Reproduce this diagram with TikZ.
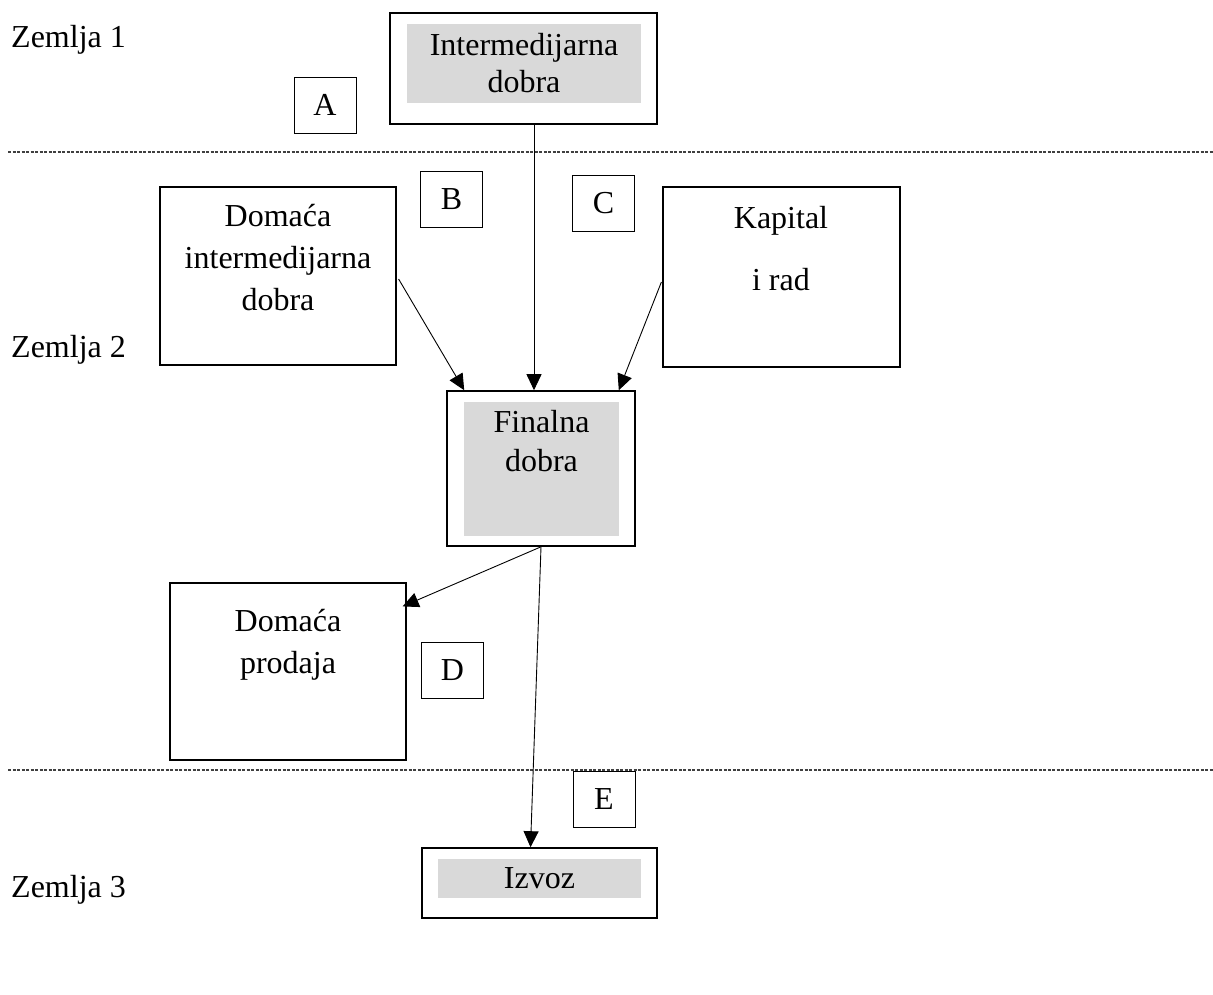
\documentclass[tikz,border=0pt]{standalone}
\usepackage{fontspec}
\setmainfont{Liberation Serif}
\usetikzlibrary{arrows.meta,calc}
\definecolor{boxgray}{HTML}{D9D9D9}
\definecolor{dashgray}{HTML}{404040}
\begin{document}
\begin{tikzpicture}[x=1pt,y=-1pt,
  txt/.style={font=\fontsize{32}{42}\selectfont,align=center,inner sep=0},
  frame/.style={draw,line width=1.6pt,inner sep=0,fill=white},
  pbox/.style={draw,line width=1.2pt,inner sep=0},
  gbox/.style={fill=boxgray,inner sep=0,font=\fontsize{32}{37}\selectfont,align=center},
  letter/.style={draw,line width=0.9pt,minimum width=62,minimum height=56,inner sep=0,font=\fontsize{32}{37}\selectfont},
  flow/.style={line width=0.9pt,-{Triangle[length=16pt,width=15pt]}},
  sep/.style={draw=dashgray,line width=1.1pt,dash pattern=on 3pt off 1.5pt}]
\useasboundingbox (0,0) rectangle (1213,994);

% separators
\draw[sep] (8,152) -- (1213,152);
\draw[sep] (8,770) -- (1213,770);

% country labels
\node[txt,anchor=base west] (z1) at (11,47) {Zemlja 1};
\node[txt,anchor=base west] (z2) at (11,357) {Zemlja 2};
\node[txt,anchor=base west] (z3) at (11,897) {Zemlja 3};

% top box
\node[frame,minimum width=267,minimum height=111] (top) at (523.5,68.5) {};
\node[gbox,minimum width=234,minimum height=79] (topg) at (524,63.5) {Intermedijarna\\dobra};

% final goods
\node[frame,minimum width=188,minimum height=155] (fin) at (541,468.5) {};
\node[gbox,minimum width=155,minimum height=134] (fing) at (541.5,469) {};
\node[txt,anchor=north,font=\fontsize{32}{39}\selectfont] (fint) at (541.5,410) {Finalna\\dobra};

% export
\node[frame,minimum width=235,minimum height=70] (izv) at (539.5,883) {};
\node[gbox,minimum width=203,minimum height=39] (izvg) at (539.5,878.5) {Izvoz};

% plain boxes
\node[pbox,minimum width=236,minimum height=178] (dib) at (278,276) {};
\node[txt,font=\fontsize{32}{42}\selectfont] (dibt) at (278,258) {Domaća\\intermedijarna\\dobra};
\node[pbox,minimum width=237,minimum height=180] (kap) at (781.5,277) {};
\node[txt,font=\fontsize{32}{62}\selectfont] (kapt) at (781,249) {Kapital\\i rad};
\node[pbox,minimum width=236,minimum height=177] (dp) at (288,671.5) {};
\node[txt,font=\fontsize{32}{42}\selectfont] (dpt) at (288,645) {Domaća\\prodaja};

% letters
\node[letter] (A) at (325,105) {A};
\node[letter] (B) at (451.5,199) {B};
\node[letter] (C) at (603.5,203) {C};
\node[letter] (D) at (452.5,670) {D};
\node[letter] (E) at (604,799.5) {E};

% connectors
\coordinate (t1) at ($(top.south)+(10.5,0)$);
\coordinate (f1) at ($(fin.north)+(-7,0)$);
\draw[flow] (t1) -- (f1);
\draw[flow] ($(dib.east)+(2,3)$) -- ($(fin.north west)+(18,0)$);
\draw[flow] ($(kap.west)+(-1,5)$) -- ($(fin.north east)+(-17,0)$);
\draw[flow] (fin.south) -- ($(dp.north east)+(-4,24)$);
\draw[flow] (fin.south) -- ($(izv.north)+(-9,0)$);
\end{tikzpicture}
\end{document}
